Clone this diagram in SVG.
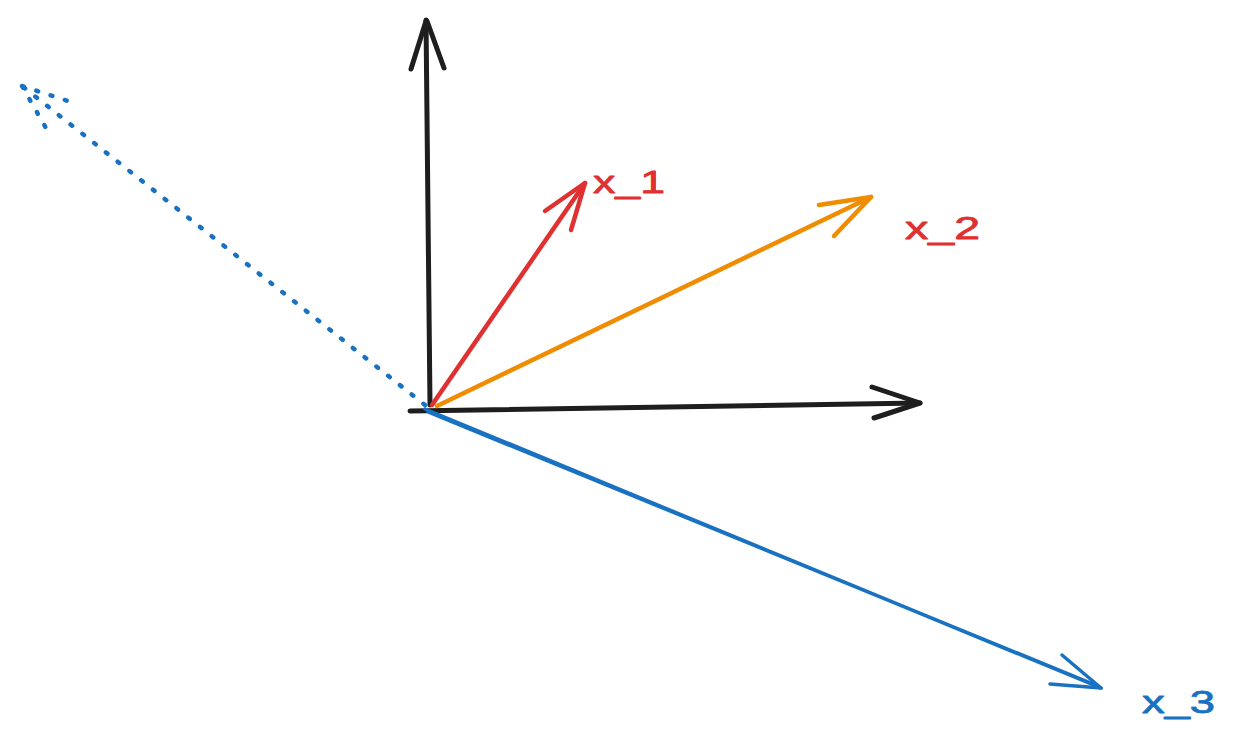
<svg xmlns="http://www.w3.org/2000/svg" width="1236" height="745" viewBox="0 0 1236 745">
<style>
.l{fill:none;stroke-linecap:round;stroke-linejoin:round}
.k{stroke:#1e1e1e;stroke-width:5}
.r{stroke:#e03131;stroke-width:4.5}
.o{stroke:#f08c00;stroke-width:4.5}
.b{stroke:#1971c2;stroke-width:3.5}
.d{stroke:#1971c2;stroke-width:4.5;stroke-dasharray:2 13}
.t{font-family:"Liberation Sans",Arial,sans-serif;font-size:32px;stroke-width:0.8;stroke-linejoin:round}
</style>
<rect width="1236" height="745" fill="#ffffff"/>
<g id="connectors">
<g id="axis-y"><path class="l k" d="M430 405 L426 20"/><path class="l k" d="M426 21 L411 69 M427 21 L444 68"/></g>
<g id="axis-x"><path class="l k" d="M410 411 L920 403"/><path class="l k" d="M920 403 L872 387 M920 403 L874 418"/></g>
<g id="vec-x1"><path class="l r" d="M432 405 L585 183"/><path class="l r" d="M585 183 L545 211 M585 183 L571 230"/></g>
<g id="vec-x2"><path class="l o" d="M437 406 L871 197"/><path class="l o" d="M871 197 L819 205 M871 197 L834 236"/></g>
<g id="vec-x3"><path class="l b" d="M425 409 L1101 688 M428 412 L1098 686"/><path class="l b" d="M1101 688 L1062 655 M1101 688 L1050 684"/></g>
<g id="vec-dotted"><path class="l d" d="M425 405 L22 86"/><path class="l d" d="M22 86 L68 101 M22 86 L46 128"/></g>
</g>
<g id="label-x1"><text class="t" x="593" y="193" fill="#e03131" stroke="#e03131" textLength="72" lengthAdjust="spacingAndGlyphs">x_1</text></g>
<g id="label-x2"><text class="t" x="905" y="239" fill="#e03131" stroke="#e03131" textLength="75" lengthAdjust="spacingAndGlyphs">x_2</text></g>
<g id="label-x3"><text class="t" x="1142" y="713" fill="#1971c2" stroke="#1971c2" textLength="73" lengthAdjust="spacingAndGlyphs">x_3</text></g>
</svg>
